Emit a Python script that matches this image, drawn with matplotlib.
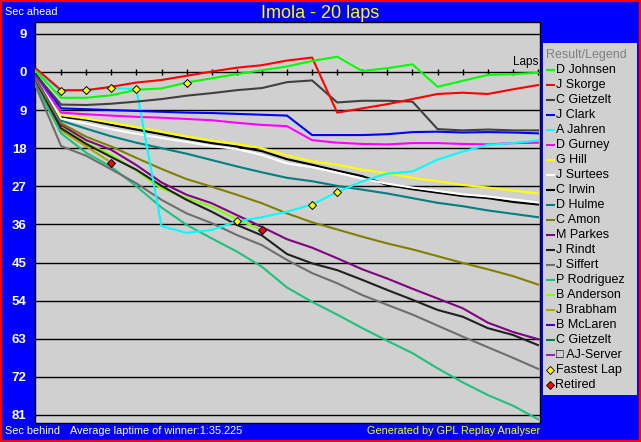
import matplotlib
matplotlib.use("Agg")
import matplotlib.pyplot as plt
from matplotlib.patches import Rectangle

plt.rcParams['font.family'] = ['Liberation Sans', 'DejaVu Sans']

# ---------------- data ----------------
title = "Imola - 20 laps"
footer_left = "Average laptime of winner:1:35.225"
footer_right = "Generated by GPL Replay Analyser"

drivers = ["D Johnsen", "J Skorge", "C Gietzelt", "J Clark", "A Jahren",
           "D Gurney", "G Hill", "J Surtees", "C Irwin", "D Hulme",
           "C Amon", "M Parkes", "J Rindt", "J Siffert", "P Rodriguez",
           "B Anderson", "J Brabham", "B McLaren", "C Gietzelt", "\u25a1 AJ-Server"]

colors = ["#00ff00", "#ff0000", "#404040", "#0000ff", "#00ffff",
          "#ff00ff", "#ffff00", "#ffffff", "#000000", "#008080",
          "#808000", "#800080", "#202020", "#6e6e6e", "#20c080",
          "#80ff00", "#a8a800", "#4000c0", "#008040", "#a020c0"]

# seconds behind the leader (negative = ahead) at the end of each lap 0..20
johnsen = [-0.2, 6.1, 6.1, 5.5, 4.2, 3.9, 2.5, 1.5, 0.5, -0.4, -1.3, -2.6, -3.6, -0.2, -0.9, -1.8, 3.5, 2.1, 0.7, 0.5, 0.2]
skorge = [-0.8, 4.3, 4.3, 3.5, 2.5, 1.9, 0.9, -0.1, -1.0, -1.6, -2.7, -3.4, 9.6, 8.6, 7.6, 6.4, 5.2, 4.9, 5.2, 4.1, 3.1]
gietzelt = [0.8, 7.7, 7.8, 7.5, 7.0, 6.4, 5.6, 5.0, 4.3, 3.8, 2.4, 2.0, 7.2, 6.8, 6.8, 7.0, 13.5, 13.8, 13.6, 13.8, 13.8]
clark = [0.5, 8.6, 8.8, 9.0, 9.2, 9.4, 9.6, 9.7, 9.9, 10.1, 10.3, 14.9, 14.9, 14.9, 14.7, 14.2, 14.1, 14.3, 14.2, 14.3, 14.5]
jahren = [-0.5, 4.6, 4.3, 3.8, 4.0, 36.4, 38.0, 37.3, 35.3, 34.3, 33.0, 31.3, 28.4, 25.8, 24.0, 23.5, 20.7, 18.8, 17.2, 16.8, 16.2]
gurney = [1.0, 9.6, 10.0, 10.3, 10.6, 10.8, 11.1, 11.4, 12.0, 12.5, 12.8, 16.1, 16.7, 17.0, 17.1, 16.8, 16.8, 17.0, 17.1, 16.8, 16.7]
hill = [0.0, 10.2, 11.0, 12.0, 13.0, 14.1, 15.2, 16.2, 17.0, 18.0, 19.7, 21.1, 21.9, 23.1, 23.9, 25.0, 25.8, 26.7, 27.3, 28.0, 28.7]
irwin = [0.3, 10.6, 11.3, 12.5, 13.6, 14.7, 15.8, 16.8, 17.6, 18.7, 20.6, 21.9, 23.3, 24.6, 26.7, 27.7, 28.5, 29.3, 29.8, 30.7, 31.3]
surtees = [0.6, 11.0, 12.2, 13.5, 14.6, 15.6, 16.5, 17.5, 18.2, 19.6, 21.6, 22.5, 23.8, 25.2, 26.4, 27.3, 28.1, 28.9, 29.4, 30.1, 30.8]
hulme = [1.2, 11.5, 13.4, 15.2, 16.7, 18.0, 19.3, 20.8, 22.3, 23.7, 25.0, 25.8, 26.9, 27.8, 28.7, 29.8, 30.9, 31.7, 32.7, 33.5, 34.3]
amon = [1.8, 12.1, 15.3, 17.6, 20.3, 22.9, 25.3, 27.1, 29.0, 31.0, 33.4, 35.5, 37.2, 38.9, 40.5, 41.9, 43.5, 45.1, 46.6, 48.2, 50.2]
parkes = [2.0, 12.5, 16.1, 18.4, 22.0, 26.1, 29.0, 31.0, 33.8, 36.6, 39.5, 41.5, 44.0, 46.6, 48.8, 51.2, 53.5, 55.8, 59.2, 61.4, 63.1]
rindt = [2.2, 13.3, 17.0, 20.1, 23.1, 26.9, 30.2, 33.0, 36.1, 38.6, 43.0, 45.2, 46.8, 49.1, 51.5, 53.8, 56.2, 57.8, 60.5, 62.1, 64.5]
siffert = [3.5, 17.5, 19.8, 23.0, 26.3, 30.2, 33.4, 35.7, 38.5, 40.9, 44.4, 47.5, 49.9, 52.7, 55.0, 57.3, 59.9, 62.5, 65.0, 67.5, 70.1]
rodriguez = [3.2, 14.5, 19.1, 22.4, 27.0, 32.0, 36.1, 39.3, 42.4, 46.0, 50.9, 54.3, 57.3, 60.5, 63.5, 66.4, 70.0, 73.3, 76.3, 78.8, 82.0]
anderson = [2.4, 12.9, 16.8, 19.6, 23.3, 27.5, 29.8, 31.8, 34.8, 37.3]
brabham = [2.6, 13.8, 17.6, 21.4]
mclaren = [2.8]
gietzelt2 = [3.0]
ajserver = [3.1]

gaps = [johnsen, skorge, gietzelt, clark, jahren, gurney, hill, surtees, irwin,
        hulme, amon, parkes, rindt, siffert, rodriguez, anderson, brabham,
        mclaren, gietzelt2, ajserver]

fastest_laps = [("A Jahren", 1), ("A Jahren", 2), ("A Jahren", 3), ("A Jahren", 4),
                ("D Johnsen", 6), ("A Jahren", 8), ("A Jahren", 11), ("A Jahren", 12)]
retired = [("J Brabham", 3), ("B Anderson", 9)]

y_ticks = [-9, 0, 9, 18, 27, 36, 45, 54, 63, 72, 81]
y_tick_labels = [str(abs(v)) for v in y_ticks]
n_laps = 20

# ---------------- figure ----------------
W, H = 641, 442
fig = plt.figure(figsize=(W / 100, H / 100), dpi=100, facecolor="#0000ff")


def fx(px):
    return px / W


def fy(py):
    return 1 - py / H


ax = fig.add_axes([fx(35), fy(423), fx(540) - fx(35), fy(22) - fy(423)])
ax.set_facecolor("#d0d0d0")

for v in y_ticks:
    ax.axhline(v, color="black", lw=1.0, zorder=1)
ax.vlines(range(1, n_laps + 1), -0.75, 0.75, color="black", lw=1.0, zorder=1)

for i in reversed(range(len(drivers))):
    g = gaps[i]
    ax.plot(range(len(g)), g, color=colors[i], lw=1.5, zorder=3)

for name, lap in fastest_laps:
    i = drivers.index(name)
    ax.plot(lap, gaps[i][lap], marker="D", ms=4.5, mfc="#ffff00", mec="black",
            mew=0.7, zorder=5)
for name, lap in retired:
    i = drivers.index(name)
    ax.plot(lap, gaps[i][lap], marker="D", ms=4.5, mfc="#ff0000", mec="black",
            mew=0.7, zorder=5)

ax.set_xlim(-0.04, n_laps + 0.08)
ax.set_ylim(82.9, -11.8)
ax.set_xticks([])
ax.set_yticks(y_ticks)
ax.set_yticklabels(y_tick_labels, color="white", fontweight="bold", fontsize=9.5)
ax.tick_params(axis="y", length=0, pad=6)
for s in ax.spines.values():
    s.set_color("black")
    s.set_linewidth(1.0)

ax.text(n_laps, -0.9, "Laps", ha="right", va="bottom", fontsize=8.5, color="black")

# texts around the plot
fig.text(fx(320), fy(14), title, ha="center", va="center", color="#ffff00", fontsize=13)
fig.text(fx(5), fy(12), "Sec ahead", ha="left", va="center", color="white", fontsize=7.8)
fig.text(fx(5), fy(431), "Sec behind", ha="left", va="center", color="white", fontsize=7.8)
fig.text(fx(70), fy(431), footer_left, ha="left", va="center", color="white", fontsize=7.8)
fig.text(fx(540), fy(431), footer_right, ha="right", va="center", color="#ffff00", fontsize=7.8)

# legend box
lax = fig.add_axes([fx(543), fy(395), fx(637) - fx(543), fy(43) - fy(395)])
lax.set_facecolor("#d0d0d0")
lax.set_xlim(0, 94)
lax.set_ylim(352, 0)
lax.set_xticks([])
lax.set_yticks([])
for s in lax.spines.values():
    s.set_visible(False)

lax.text(3, 12, "Result/Legend", ha="left", va="center", color="#808080", fontsize=9)
for k, (name, col) in enumerate(zip(drivers, colors)):
    yy = 27 + 15 * k
    lax.plot([3, 12], [yy, yy], color=col, lw=1.5, solid_capstyle="butt")
    lax.text(12.5, yy, name, ha="left", va="center", color="black", fontsize=9)
k = len(drivers)
lax.plot(7, 27 + 15 * k, marker="D", ms=4, mfc="#ffff00", mec="black", mew=0.6)
lax.text(12.5, 27 + 15 * k, "Fastest Lap", ha="left", va="center", color="black", fontsize=9)
k += 1
lax.plot(7, 27 + 15 * k, marker="D", ms=4, mfc="#ff0000", mec="black", mew=0.6)
lax.text(12.5, 27 + 15 * k, "Retired", ha="left", va="center", color="black", fontsize=9)

# red outer border
fig.patches.append(Rectangle((0, 0), 1, 1, transform=fig.transFigure, fill=False,
                             edgecolor="#ff0000", lw=3))

fig.savefig("out.png", dpi=100, facecolor=fig.get_facecolor())
